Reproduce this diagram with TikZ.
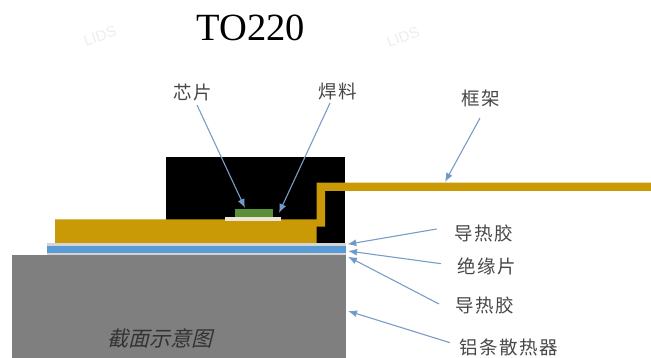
\documentclass[tikz,border=0pt]{standalone}
\usepackage{fontspec}
\usetikzlibrary{arrows.meta}
\newfontfamily\cjk[LetterSpace=8]{Noto Sans CJK SC}
\newfontfamily\cjkslant[FakeSlant=0.25]{Noto Sans CJK SC}
\newfontfamily\titlefont{Liberation Serif}
\newfontfamily\markfont{Liberation Sans}
\definecolor{leadgold}{HTML}{C99A05}
\definecolor{chipgreen}{HTML}{5B8F3A}
\definecolor{solderwhite}{HTML}{EDE6D6}
\definecolor{insulblue}{HTML}{5B9BD5}
\definecolor{paste}{HTML}{D4D4D4}
\definecolor{sinkgray}{HTML}{7F7F7F}
\definecolor{arrowblue}{HTML}{7A9CC6}
\tikzset{
  x=1pt,y=-1pt,
  label text/.style={font=\cjk\fontsize{18.5}{20}\selectfont,text=black!72,inner sep=0pt},
  callout/.style={draw=arrowblue,line width=1.1pt,-{Latex[length=9pt,width=7pt,fill=insulblue]},shorten >=0pt},
  wmark/.style={font=\markfont\fontsize{15}{15}\selectfont,text=black!7,rotate=20,inner sep=0pt}
}
\begin{document}
\begin{tikzpicture}
\useasboundingbox (0,0) rectangle (651,358);
% watermarks
\node[wmark] (w1) at (100,36) {LIDS};
\node[wmark] (w2) at (403,37) {LIDS};
% body layers
\fill[sinkgray] (12,255.5) rectangle (346,358);
\fill[paste] (47,243) rectangle (346,255.5);
\fill[insulblue] (47,246) rectangle (346,253.3);
\fill[black] (165.5,157) rectangle (344.5,243);
\fill[leadgold] (55,219.5) -- (316.5,219.5) -- (316.5,182.7) -- (651,182.7) -- (651,191)
  -- (325,191) -- (325,226.7) -- (316.5,226.7) -- (316.5,243) -- (55,243) -- cycle;
\fill[solderwhite] (225.3,217.3) rectangle (280.7,220.8);
\fill[chipgreen] (235.3,209.3) rectangle (273.3,217.3);
% title and labels
\node[font=\titlefont\fontsize{38.5}{40}\selectfont,inner sep=0pt] (title) at (251,28) {TO220};
\node[label text] (chip) at (193,92) {芯片};
\node[label text] (solder) at (338,92) {焊料};
\node[label text] (frame) at (481,98) {框架};
\node[label text] (paste1) at (484,233) {导热胶};
\node[label text] (insul) at (487,266) {绝缘片};
\node[label text] (paste2) at (485,305) {导热胶};
\node[label text] (sink) at (509,347.5) {铝条散热器};
\node[font=\cjkslant\fontsize{21}{22}\selectfont,text=black!80,inner sep=0pt] (section) at (160,338) {截面示意图};
% arrow targets
\coordinate (tchip) at (245,208);
\coordinate (tsolder) at (279,213);
\coordinate (tframe) at (445,182);
\coordinate (tpaste1) at (347.3,244.3);
\coordinate (tinsul) at (348,251);
\coordinate (tpaste2) at (348,256.7);
\coordinate (tsink) at (348,311);
% free starts touching the labels
\coordinate (schip) at (197,105);
\coordinate (ssolder) at (330,103);
\coordinate (sframe) at (480,118);
\coordinate (spaste1) at (436.7,229);
\coordinate (sinsul) at (441,263.7);
\coordinate (spaste2) at (439,304);
\coordinate (ssink) at (450,342.7);
\draw[callout] (schip) -- (tchip);
\draw[callout] (ssolder) -- (tsolder);
\draw[callout] (sframe) -- (tframe);
\draw[callout] (spaste1) -- (tpaste1);
\draw[callout] (sinsul) -- (tinsul);
\draw[callout] (spaste2) -- (tpaste2);
\draw[callout] (ssink) -- (tsink);
\end{tikzpicture}
\end{document}
